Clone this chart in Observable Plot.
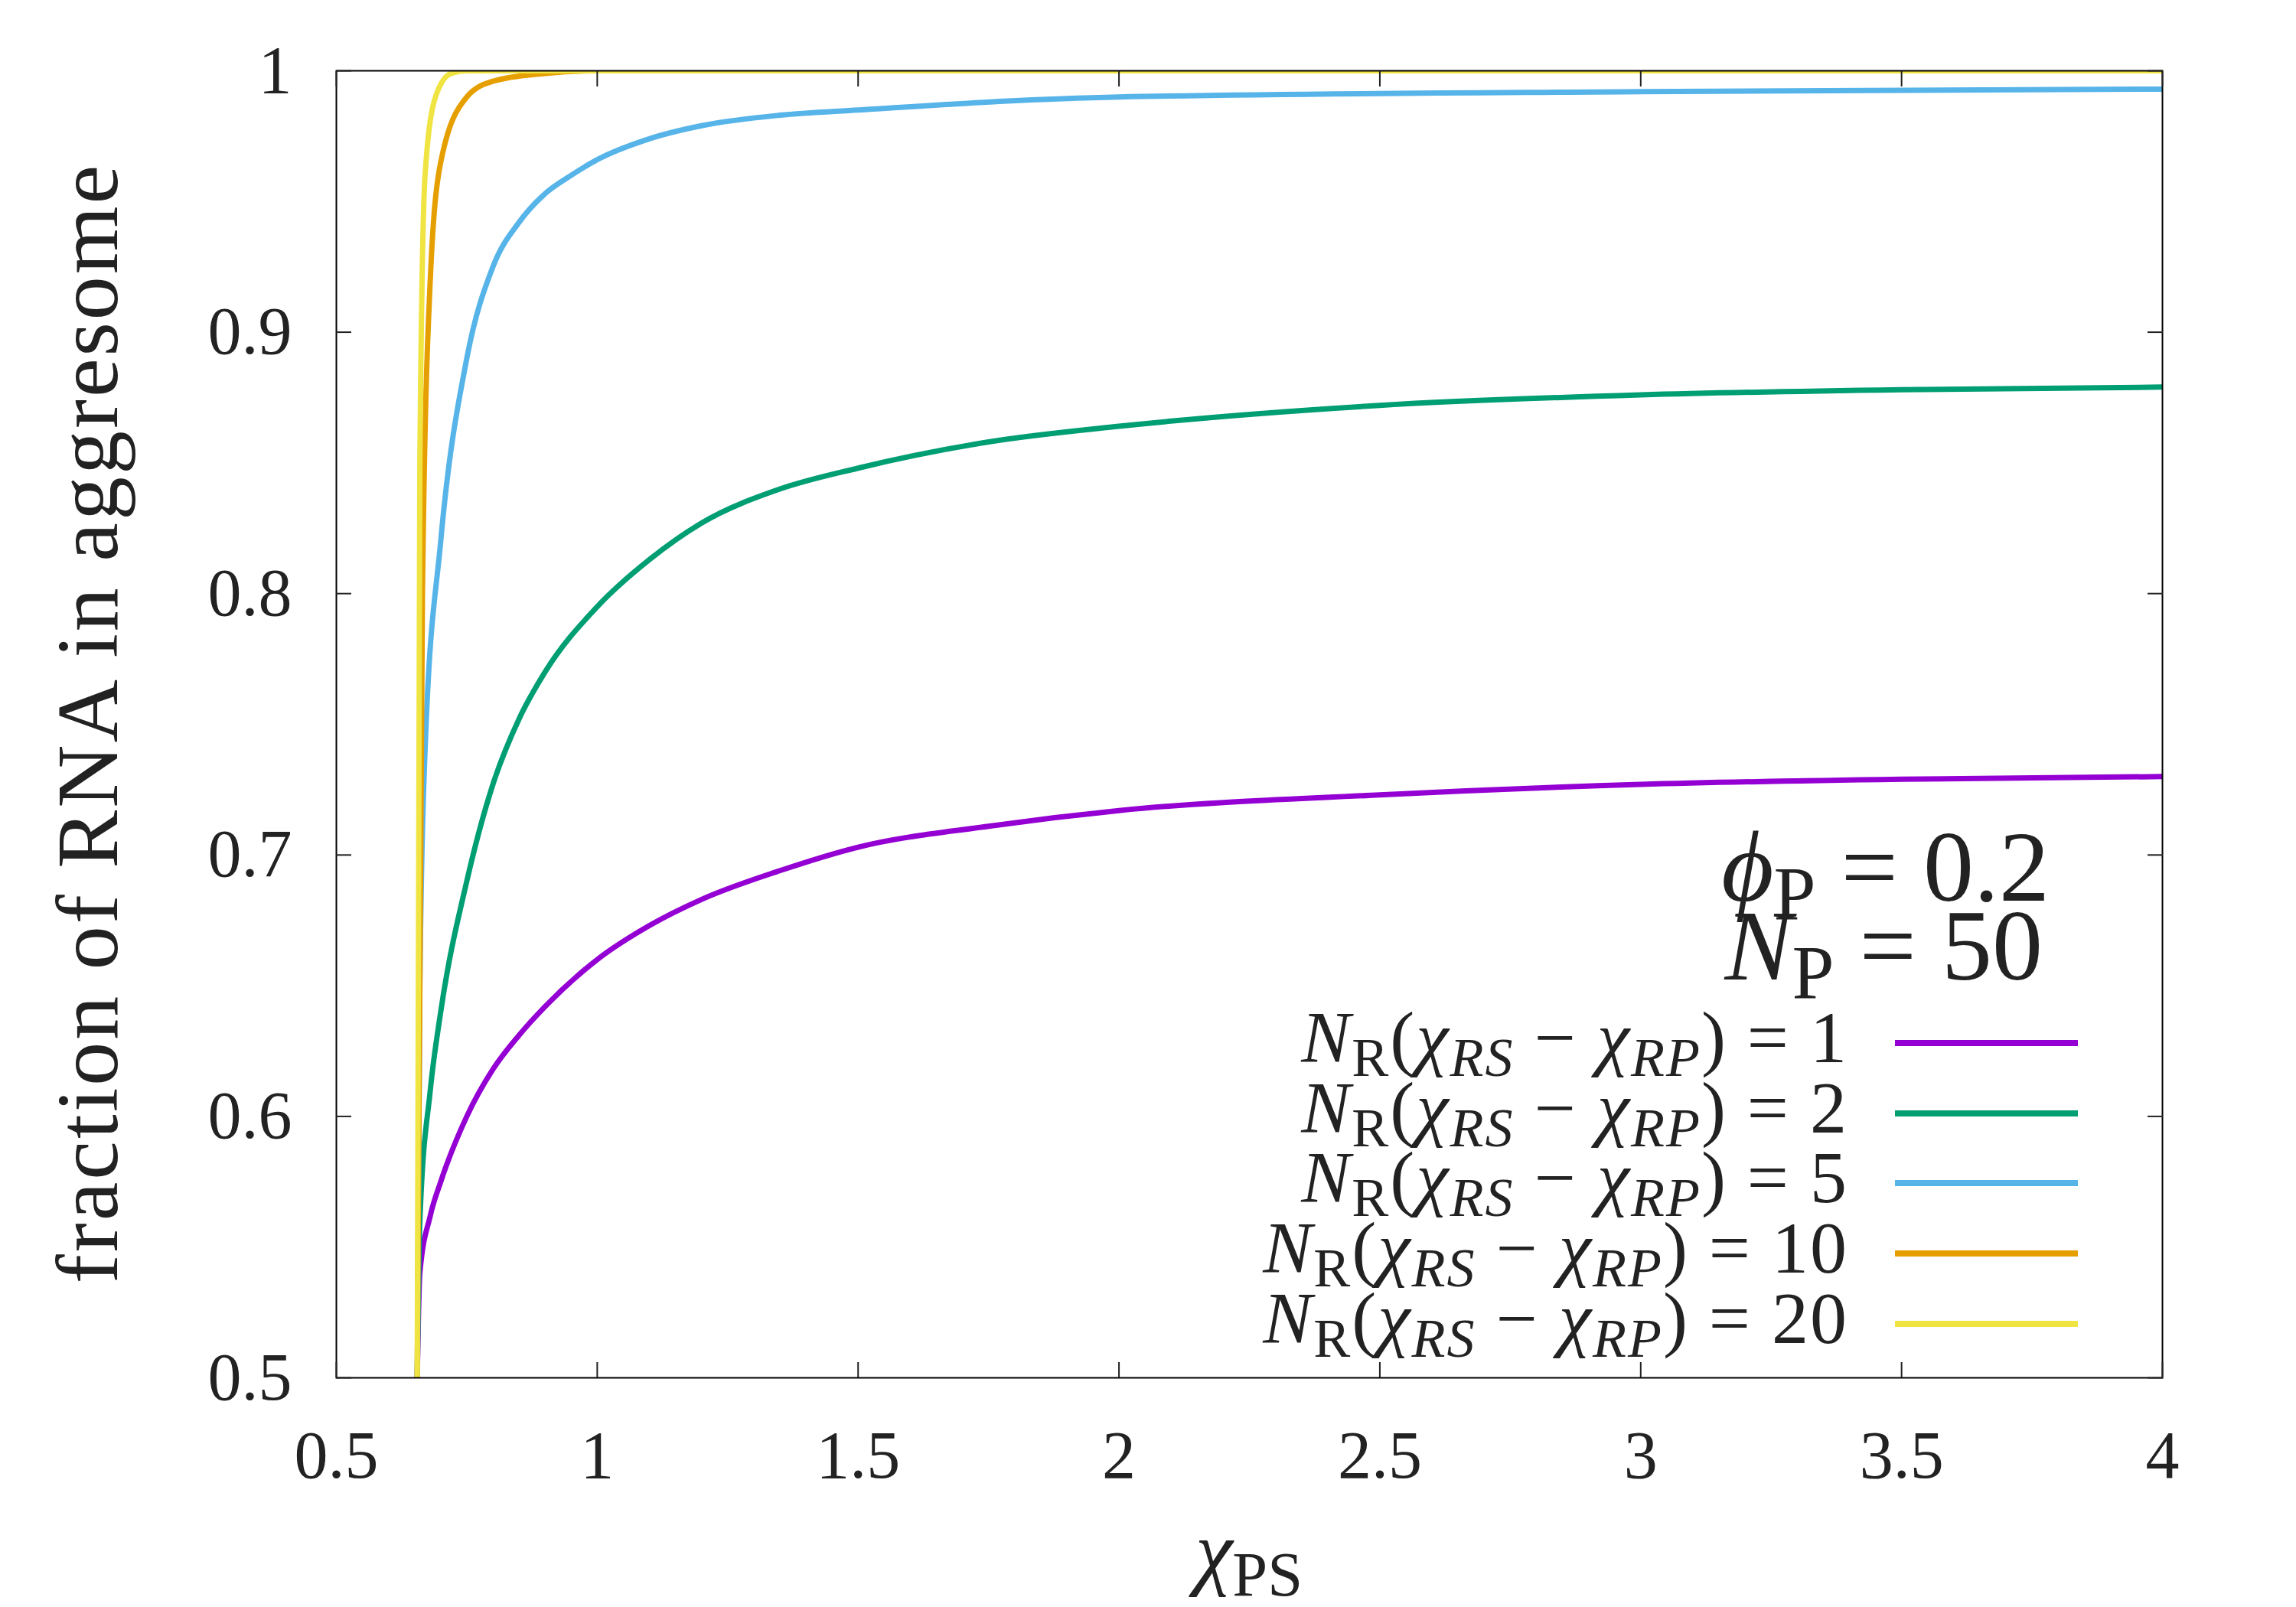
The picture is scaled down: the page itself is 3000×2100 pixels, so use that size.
<!DOCTYPE html>
<html><head><meta charset="utf-8">
<script src="https://cdn.jsdelivr.net/npm/d3@7"></script>
<script src="https://cdn.jsdelivr.net/npm/@observablehq/plot@0.6"></script>
<style>
body{margin:0;background:#fff;}
#wrap{position:relative;width:3000px;height:2100px;overflow:hidden;font-family:"Liberation Serif","DejaVu Serif",serif;color:#222;}
.lab{position:absolute;white-space:nowrap;line-height:1;}
.leg{position:absolute;right:585px;font-size:96px;line-height:1;text-align:right;white-space:nowrap;letter-spacing:2px;}
.sw{position:absolute;left:2476px;width:239px;height:8px;}
sub{font-size:75%;vertical-align:-0.25em;font-style:normal}
</style></head><body><div id="wrap"></div>
<script>
const labels = ["1","2","5","10","20"];
const colors = ["#9400d3","#009e73","#56b4e9","#e69f00","#f0e442"];
const xs1 = [0.655,0.66,0.68,0.7,0.75,0.8,0.85,0.9,1.0,1.1,1.2,1.35,1.5,1.75,2,2.5,3,3.5,4];
const ys1 = [0.5,0.54,0.562,0.575,0.6,0.618,0.631,0.642,0.66,0.673,0.683,0.694,0.703,0.711,0.717,0.723,0.727,0.729,0.730];
const xs2 = [0.655,0.66,0.68,0.7,0.75,0.8,0.85,0.9,1.0,1.1,1.2,1.35,1.5,1.75,2,2.5,3,3.5,4];
const ys2 = [0.5,0.56,0.61,0.64,0.69,0.727,0.752,0.77,0.795,0.813,0.827,0.84,0.848,0.858,0.864,0.872,0.876,0.878,0.879];
const xs5 = [0.655,0.66,0.67,0.7,0.75,0.8,0.85,0.9,0.95,1.0,1.1,1.2,1.35,1.5,2,3,4];
const ys5 = [0.5,0.65,0.74,0.82,0.89,0.925,0.942,0.953,0.96,0.966,0.974,0.979,0.983,0.985,0.99,0.992,0.993];
const xs10 = [0.655,0.665,0.68,0.7,0.75,0.8,0.9,1,4];
const ys10 = [0.5,0.8,0.92,0.965,0.99,0.996,0.999,1,1];
const xs20 = [0.655,0.66,0.67,0.69,0.72,0.75,4];
const ys20 = [0.5,0.85,0.96,0.99,0.999,1,1];
const xTicks = [0.5,1,1.5,2,2.5,3,3.5,4];
const yTicks = [0.5,0.6,0.7,0.8,0.9,1];
const series = [[xs1,ys1],[xs2,ys2],[xs5,ys5],[xs10,ys10],[xs20,ys20]];
const data = series.flatMap(([xs,ys],i)=>xs.map((x,j)=>({x,y:ys[j],s:labels[i]})));
const fmt = d => String(d);
const plot = Plot.plot({
  width:3000,height:2100,marginLeft:439,marginRight:175,marginTop:92,marginBottom:300,
  style:{fontFamily:"Liberation Serif, DejaVu Serif, serif",fontSize:"88px",color:"#222"},
  x:{domain:[0.5,4]},y:{domain:[0.5,1]},
  color:{domain:labels,range:colors},
  marks:[
    Plot.line(data,{x:"x",y:"y",stroke:"s",z:"s",strokeWidth:7,curve:"monotone-x",clip:true}),
    Plot.frame({stroke:"#000",strokeWidth:2}),
    Plot.axisX(xTicks,{anchor:"bottom",tickSize:-20,tickPadding:88,tickFormat:fmt,label:null,strokeWidth:2}),
    Plot.axisX(xTicks,{anchor:"top",tickSize:-20,tickFormat:()=>"",label:null,strokeWidth:2}),
    Plot.axisY(yTicks,{anchor:"left",tickSize:-20,tickPadding:78,tickFormat:fmt,label:null,strokeWidth:2}),
    Plot.axisY(yTicks,{anchor:"right",tickSize:-20,tickFormat:()=>"",label:null,strokeWidth:2})
  ]
});
const wrap=document.getElementById("wrap");
wrap.appendChild(plot);
plot.style.position="absolute";plot.style.left="0";plot.style.top="0";
function add(html,css,cls){const d=document.createElement("div");d.className=cls||"lab";d.innerHTML=html;Object.assign(d.style,css);wrap.appendChild(d);return d;}
add("fraction of RNA in aggresome",{left:"115px",top:"945px",fontSize:"114px",letterSpacing:"3px",transform:"translate(-50%,-50%) rotate(-90deg)"});
add("<i>χ</i><sub>PS</sub>",{left:"1632px",top:"2035px",fontSize:"110px",transform:"translate(-50%,-50%)"});
add("<i>ϕ</i><sub>P</sub> = 0.2",{right:"322px",top:"1142px",fontSize:"132px",transform:"translateY(-50%)"});
add("<i>N</i><sub>P</sub> = 50",{right:"331px",top:"1245px",fontSize:"132px",transform:"translateY(-50%)"});
const rows=[1363,1455,1546,1638,1730];
labels.forEach((l,i)=>{
  add(`<i>N</i><sub>R</sub>(<i>χ<sub><i>RS</i></sub></i> − <i>χ<sub><i>RP</i></sub></i>) = ${l}`,{top:rows[i]+"px",transform:"translateY(-50%)"},"leg");
  add("",{top:(rows[i]-4)+"px",background:colors[i]},"sw");
});
</script></body></html>
